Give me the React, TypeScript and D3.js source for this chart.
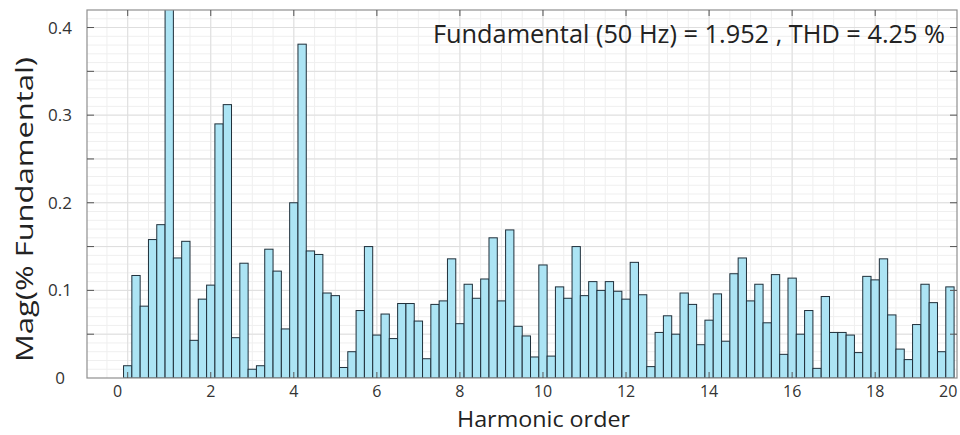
import React from "react";
import * as d3 from "d3";

// Harmonic orders (step 0.2) and magnitudes (% of fundamental)
const harmonicOrders = [
  0, 0.2, 0.4, 0.6, 0.8, 1, 1.2, 1.4, 1.6, 1.8,
  2, 2.2, 2.4, 2.6, 2.8, 3, 3.2, 3.4, 3.6, 3.8,
  4, 4.2, 4.4, 4.6, 4.8, 5, 5.2, 5.4, 5.6, 5.8,
  6, 6.2, 6.4, 6.6, 6.8, 7, 7.2, 7.4, 7.6, 7.8,
  8, 8.2, 8.4, 8.6, 8.8, 9, 9.2, 9.4, 9.6, 9.8,
  10, 10.2, 10.4, 10.6, 10.8, 11, 11.2, 11.4, 11.6, 11.8,
  12, 12.2, 12.4, 12.6, 12.8, 13, 13.2, 13.4, 13.6, 13.8,
  14, 14.2, 14.4, 14.6, 14.8, 15, 15.2, 15.4, 15.6, 15.8,
  16, 16.2, 16.4, 16.6, 16.8, 17, 17.2, 17.4, 17.6, 17.8,
  18, 18.2, 18.4, 18.6, 18.8, 19, 19.2, 19.4, 19.6, 19.8,
];

const magnitudes = [
  0.014, 0.117, 0.082, 0.158, 0.175, 100, 0.137, 0.156, 0.043, 0.090,
  0.106, 0.290, 0.312, 0.046, 0.131, 0.010, 0.014, 0.147, 0.122, 0.056,
  0.200, 0.381, 0.145, 0.141, 0.097, 0.094, 0.012, 0.030, 0.077, 0.150,
  0.049, 0.073, 0.045, 0.085, 0.085, 0.065, 0.022, 0.084, 0.088, 0.136,
  0.062, 0.107, 0.091, 0.113, 0.160, 0.088, 0.169, 0.059, 0.048, 0.024,
  0.129, 0.025, 0.104, 0.091, 0.150, 0.094, 0.110, 0.100, 0.110, 0.099,
  0.090, 0.132, 0.095, 0.013, 0.052, 0.071, 0.050, 0.097, 0.084, 0.038,
  0.066, 0.096, 0.042, 0.119, 0.137, 0.088, 0.107, 0.063, 0.118, 0.027,
  0.114, 0.050, 0.077, 0.011, 0.093, 0.052, 0.052, 0.049, 0.029, 0.116,
  0.112, 0.136, 0.072, 0.033, 0.021, 0.061, 0.107, 0.086, 0.030, 0.104,
];

const xTickValues = [0, 2, 4, 6, 8, 10, 12, 14, 16, 18, 20];
const yTickLabels = [0, 0.1, 0.2, 0.3, 0.4];
const yMinorTicks = [0.05, 0.15, 0.25, 0.35];

const titleText = "Fundamental (50 Hz) = 1.952 , THD = 4.25 %";
const xLabel = "Harmonic order";
const yLabel = "Mag(% Fundamental)";

const W = 960;
const H = 435;
const L = 87;
const R = 957;
const T = 10;
const B = 378;
const FONT = "'Open Sans', 'Noto Sans', sans-serif";

export default function App() {
  const x = d3.scaleLinear().domain([-0.98, 19.97]).range([L, R]);
  const y = d3.scaleLinear().domain([0, 0.42]).range([B, T]);
  const barW = x(0.2) - x(0);

  const vMinor = d3.range(-0.5, 20, 0.5).filter((v) => x(v) > L && x(v) < R);
  const hMinor = d3.range(0.01, 0.42, 0.01);
  const hMajor = d3.range(0.05, 0.42, 0.05);
  const vMajor = xTickValues.filter((v) => x(v) > L && x(v) < R);

  return (
    <svg
      width={W}
      height={H}
      style={{ position: "absolute", left: 0, top: 0, background: "#fff" }}
      fontFamily={FONT}
    >
      <defs>
        <clipPath id="plotClip">
          <rect x={L} y={T} width={R - L} height={B - T} />
        </clipPath>
      </defs>
      <rect x={L} y={T} width={R - L} height={B - T} fill="#fff" />
      {/* minor grid */}
      <g stroke="#efefef" strokeWidth={1}>
        {vMinor.map((v, i) => (
          <line key={"vm" + i} x1={x(v)} x2={x(v)} y1={T} y2={B} />
        ))}
        {hMinor.map((v, i) => (
          <line key={"hm" + i} x1={L} x2={R} y1={y(v)} y2={y(v)} />
        ))}
      </g>
      {/* major grid */}
      <g stroke="#dedede" strokeWidth={1}>
        {vMajor.map((v, i) => (
          <line key={"vM" + i} x1={x(v)} x2={x(v)} y1={T} y2={B} />
        ))}
        {hMajor.map((v, i) => (
          <line key={"hM" + i} x1={L} x2={R} y1={y(v)} y2={y(v)} />
        ))}
      </g>
      {/* bars */}
      <g clipPath="url(#plotClip)">
        {harmonicOrders.map((h, i) => {
          const v = Math.min(magnitudes[i], 0.5);
          return (
            <rect
              key={"b" + i}
              x={x(h) - barW / 2}
              y={y(v)}
              width={barW}
              height={y(0) - y(v)}
              fill="#ace4f4"
              stroke="#1f2f3a"
              strokeWidth={1}
            />
          );
        })}
      </g>
      {/* axes box */}
      <rect x={L} y={T} width={R - L} height={B - T} fill="none" stroke="#8f8f8f" strokeWidth={1.2} />
      {/* ticks */}
      <g stroke="#555" strokeWidth={1}>
        {vMajor.map((v, i) => (
          <g key={"xt" + i}>
            <line x1={x(v)} x2={x(v)} y1={T} y2={T + 6} />
            <line x1={x(v)} x2={x(v)} y1={B} y2={B - 6} />
          </g>
        ))}
        {[...yTickLabels, ...yMinorTicks]
          .filter((v) => v > 0)
          .map((v, i) => (
            <g key={"yt" + i}>
              <line x1={L} x2={L + 7} y1={y(v)} y2={y(v)} />
              <line x1={R} x2={R - 7} y1={y(v)} y2={y(v)} />
            </g>
          ))}
      </g>
      {/* y tick labels */}
      <g fontSize={17} fill="#333" textAnchor="middle">
        {yTickLabels.map((v, i) => (
          <text key={"yl" + i} x={60} y={y(v) + 6}>
            {v === 0 ? "0" : d3.format(".1f")(v)}
          </text>
        ))}
      </g>
      {/* x tick labels */}
      <g fontSize={16} fill="#333" textAnchor="middle">
        {xTickValues.map((v, i) => (
          <text
            key={"xl" + i}
            x={x(v)}
            y={397}
            dx={i === 0 || i === xTickValues.length - 1 ? -10 : 0}
          >
            {v}
          </text>
        ))}
      </g>
      {/* annotation */}
      <text
        x={433}
        y={43}
        fontSize={25}
        fill="#222"
        textLength={512}
        lengthAdjust="spacingAndGlyphs"
      >
        {titleText}
      </text>
      {/* axis titles */}
      <text
        x={457}
        y={427}
        fontSize={22}
        fill="#222"
        textLength={173}
        lengthAdjust="spacingAndGlyphs"
      >
        {xLabel}
      </text>
      <text
        transform={`translate(33, 362) rotate(-90)`}
        fontSize={24}
        fill="#222"
        textLength={305}
        lengthAdjust="spacingAndGlyphs"
      >
        {yLabel}
      </text>
    </svg>
  );
}
